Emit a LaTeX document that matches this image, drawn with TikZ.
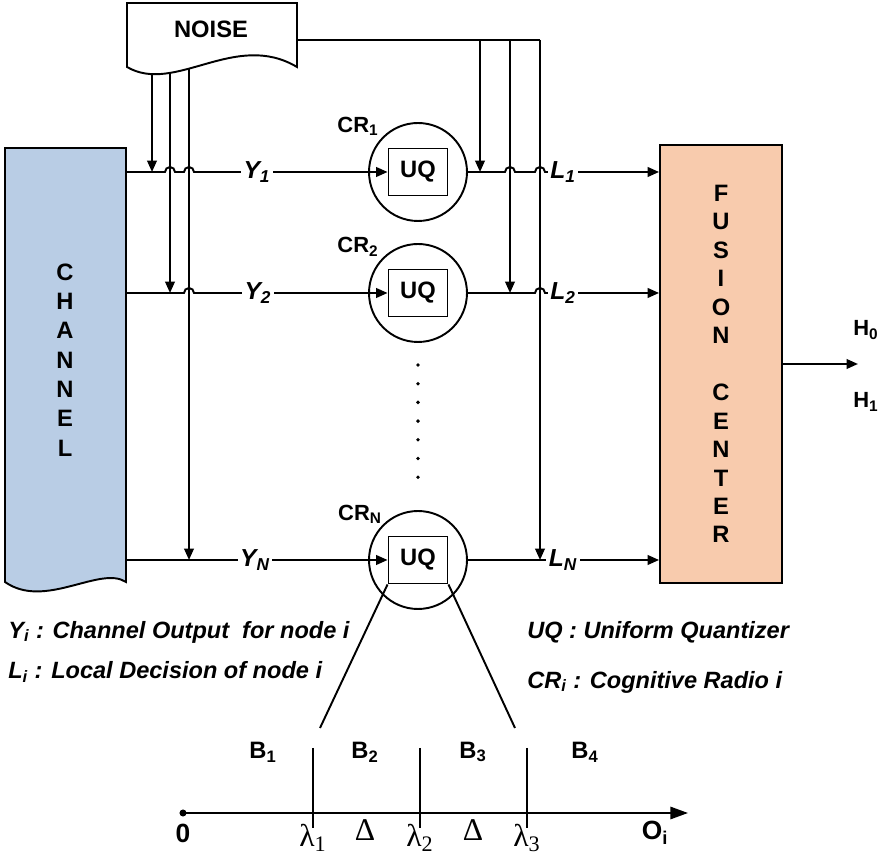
\documentclass[tikz,border=0pt]{standalone}
\usepackage{fontspec}
\setmainfont{Liberation Sans}
\newfontfamily\grkfont{Liberation Serif}
\usetikzlibrary{arrows.meta}
\definecolor{chblue}{RGB}{185,205,229}
\definecolor{fcpeach}{RGB}{248,203,173}

\tikzset{
  wire/.style={line width=1.1pt},
  sig/.style={wire, -{Triangle[length=6.5pt,width=5.5pt]}},
  crcirc/.style={circle, draw, line width=1.1pt, minimum size=1.96cm, inner sep=0pt},
  uqbox/.style={draw, line width=1.1pt, fill=white, minimum width=1.18cm, minimum height=0.94cm,
    inner sep=0pt, font=\fontsize{13.5}{15}\selectfont\bfseries},
  lbl/.style={font=\fontsize{12.5}{14}\selectfont\bfseries},
  siglbl/.style={fill=white, inner sep=1.5pt, font=\fontsize{14}{16}\selectfont\bfseries\itshape},
  legend/.style={anchor=west, inner sep=0pt, font=\fontsize{13.4}{15}\selectfont\bfseries\itshape},
  axlbl/.style={font=\fontsize{15}{17}\selectfont\bfseries},
  binlbl/.style={font=\fontsize{13.5}{15}\selectfont\bfseries},
  grklbl/.style={font=\fontsize{18}{20}\selectfont\grkfont},
}

\begin{document}
\begin{tikzpicture}[x=0.02cm, y=-0.02cm]
  \useasboundingbox (0,0) rectangle (890,857);

  % Channel
  \draw[wire, fill=chblue] (5,148) -- (126,148) -- (126,582)
       .. controls (100,565) and (45,610) .. (5,582) -- cycle;
  \node[align=center, font=\fontsize{13.5}{16.7}\selectfont\bfseries] (chan) at (65,360)
       {C\\H\\A\\N\\N\\E\\L};
  \coordinate (c1) at (126,172);
  \coordinate (c2) at (126,293);
  \coordinate (cn) at (126,560);

  % Fusion center
  \node[draw, wire, fill=fcpeach, minimum width=2.44cm, minimum height=8.76cm] (fc) at (721,364) {};
  \node[align=center, font=\fontsize{13.5}{16.2}\selectfont\bfseries] (fctext) at (fc.center)
       {F\\U\\S\\I\\O\\N\\[16.2pt]C\\E\\N\\T\\E\\R};

  % Cognitive radios
  \node[crcirc] (cr1) at (418,172) {};
  \node[crcirc] (cr2) at (418,293) {};
  \node[crcirc] (crn) at (418,560) {};
  \node[uqbox] (uq1) at (cr1) {UQ};
  \node[uqbox] (uq2) at (cr2) {UQ};
  \node[uqbox] (uqn) at (crn) {UQ};
  \node[lbl] (crl1) at ([shift={(-60,-46)}]cr1.center) {CR\textsubscript{1}};
  \node[lbl] (crl2) at ([shift={(-60,-46)}]cr2.center) {CR\textsubscript{2}};
  \node[lbl] (crln) at ([shift={(-58,-46)}]crn.center) {CR\textsubscript{N}};
  \foreach \k in {0,...,6}
    \fill (418,{365+18.7*\k}) circle[radius=1.1pt];

  % Noise lines
  \coordinate (nz1) at (152,60);
  \coordinate (nz2) at (170,60);
  \coordinate (nz3) at (189,60);
  \coordinate (nzr) at (297,40);
  \draw[sig] (nz1) -- (nz1 |- c1);
  \draw[sig] (nz2) -- (nz2 |- c2);
  \draw[sig] (nz3) -- (nz3 |- cn);
  \draw[wire] (nzr) -- (540,40) coordinate (nzc);
  \draw[sig] (480,40) -- (480,172);
  \draw[sig] (510,40) -- (510,293);
  \draw[sig] (nzc) -- (540,560);

  % Noise source
  \draw[wire, fill=white] (127,3) -- (297,3) -- (297,67)
       .. controls (235,30) and (175,95) .. (127,67) -- cycle;
  \node[font=\fontsize{13.5}{15}\selectfont\bfseries] (noise) at (211,29) {NOISE};

  % Channel outputs
  \draw[sig] (c1) -- (165,172) arc[start angle=180, end angle=0, radius=0.1cm]
       -- (184,172) arc[start angle=180, end angle=0, radius=0.1cm] -- (uq1.west);
  \draw[sig] (c2) -- (184,293) arc[start angle=180, end angle=0, radius=0.1cm] -- (uq2.west);
  \draw[sig] (cn) -- (uqn.west);
  \node[siglbl] (y1) at (257,172) {Y\textsubscript{1}};
  \node[siglbl] (y2) at (258,293) {Y\textsubscript{2}};
  \node[siglbl] (yn) at (255,560) {Y\textsubscript{N}};

  % Local decisions
  \draw[sig] (cr1.east) -- (505,172) arc[start angle=180, end angle=0, radius=0.1cm]
       -- (535,172) arc[start angle=180, end angle=0, radius=0.1cm] -- (fc.west |- cr1.east);
  \draw[sig] (cr2.east) -- (535,293) arc[start angle=180, end angle=0, radius=0.1cm]
       -- (fc.west |- cr2.east);
  \draw[sig] (crn.east) -- (fc.west |- crn.east);
  \node[siglbl] (l1) at (563,172) {L\textsubscript{1}};
  \node[siglbl] (l2) at (563,293) {L\textsubscript{2}};
  \node[siglbl] (ln) at (563,560) {L\textsubscript{N}};

  % Decision output
  \draw[sig] (fc.east) -- ++(75,0) coordinate (hout);
  \node[lbl] (h0) at (866,330) {H\textsubscript{0}};
  \node[lbl] (h1) at (866,402) {H\textsubscript{1}};

  % Legend
  \node[legend] (lgy) at (8,632) {Y\textsubscript{i} : Channel Output\ \ for node i};
  \node[legend] (lgl) at (8,672) {L\textsubscript{i} : Local Decision of node i};
  \node[legend] (lgu) at (527,632) {UQ : Uniform Quantizer};
  \node[legend] (lgc) at (527,682) {CR\textsubscript{i} : Cognitive Radio i};

  % Quantizer zoom
  \coordinate (zl) at (320,728);
  \coordinate (zr) at (515,728);
  \draw[wire] (uqn.south west) -- (zl);
  \draw[wire] (uqn.south east) -- (zr);

  % Quantizer axis
  \coordinate (o) at (183,813);
  \fill (o) circle[radius=2pt];
  \draw[wire, -{Triangle[length=10pt,width=7pt]}] (o) -- (688,813) coordinate (oend);
  \foreach \x/\n in {313/1, 420/2, 527/3} {
    \draw[line width=0.9pt] (\x,748) -- (\x,828);
    \node[grklbl] (lam\n) at (\x,838) {λ\textsubscript{\n}};
  }
  \node[grklbl] (d1) at (365,830) {Δ};
  \node[grklbl] (d2) at (473,830) {Δ};
  \node[axlbl] (zero) at (183,833) {0};
  \node[axlbl] (oi) at (655,833) {O\textsubscript{i}};
  \node[binlbl] (b1) at (263,752) {B\textsubscript{1}};
  \node[binlbl] (b2) at (365,752) {B\textsubscript{2}};
  \node[binlbl] (b3) at (473,752) {B\textsubscript{3}};
  \node[binlbl] (b4) at (585,752) {B\textsubscript{4}};
\end{tikzpicture}
\end{document}
